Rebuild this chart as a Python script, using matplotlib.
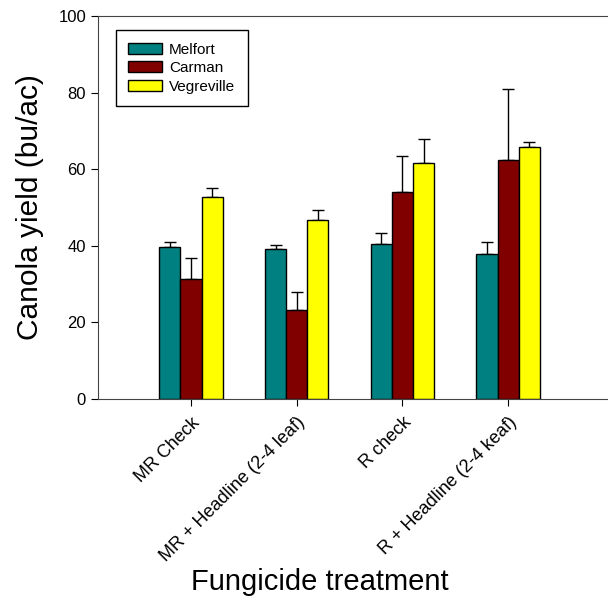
import matplotlib
matplotlib.use("Agg")
from matplotlib import pyplot as plt
import numpy as np

plt.rcParams['font.family'] = ['Liberation Sans', 'DejaVu Sans']

# dados
tratamentos = ["MR Check", "MR + Headline (2-4 leaf)", "R check", "R + Headline (2-4 keaf)"]
locais = ["Melfort", "Carman", "Vegreville"]
melfort = [39.7, 39.1, 40.5, 37.9]
carman = [31.4, 23.2, 54.1, 62.4]
vegreville = [52.7, 46.8, 61.5, 65.7]
erro_melfort = [1.4, 1.1, 2.8, 3.2]
erro_carman = [5.5, 4.7, 9.3, 18.6]
erro_vegreville = [2.3, 2.5, 6.4, 1.4]

cores = ["#008080", "#800000", "#ffff00"]

fig = plt.figure(figsize=(6.08, 5.98), dpi=100)
ax = fig.add_axes([0.161, 0.333, 0.84, 0.64])

xs = np.arange(1, len(tratamentos) + 1)
largura = 0.2
series = [melfort, carman, vegreville]
erros = [erro_melfort, erro_carman, erro_vegreville]
for i, (vals, errs) in enumerate(zip(series, erros)):
    pos = xs + (i - 1) * largura
    ax.bar(pos, vals, largura, color=cores[i], edgecolor="black", linewidth=1.0,
           label=locais[i], zorder=2)
    ax.errorbar(pos, vals, yerr=[np.zeros(len(errs)), errs], fmt="none",
                ecolor="black", elinewidth=1.0, capsize=4, capthick=1.0, zorder=1)

ax.set_xlim(0.12, 4.95)
ax.set_ylim(0, 100)
ax.set_yticks([0, 20, 40, 60, 80, 100])
ax.set_xticks(xs)
ax.set_xticklabels(tratamentos, rotation=45, ha="right", rotation_mode="anchor", fontsize=13)
ax.tick_params(axis="y", labelsize=12, direction="out", length=5)
ax.tick_params(axis="x", direction="out", length=5, pad=6)
ax.spines["right"].set_visible(False)
for s in ["left", "bottom", "top"]:
    ax.spines[s].set_color("#444444")

ax.set_ylabel("Canola yield (bu/ac)", fontsize=21.5)
ax.yaxis.set_label_coords(-0.105, 0.5)
fig.text(0.526, 0.027, "Fungicide treatment", fontsize=21, ha="center", va="center")

leg = ax.legend(loc="upper left", bbox_to_anchor=(0.035, 0.963), fontsize=11,
                fancybox=False, framealpha=1, edgecolor="black", borderaxespad=0,
                handlelength=2.2, handleheight=0.75, handletextpad=0.5,
                borderpad=0.8, labelspacing=0.3)

fig.savefig("out.png", dpi=100)
